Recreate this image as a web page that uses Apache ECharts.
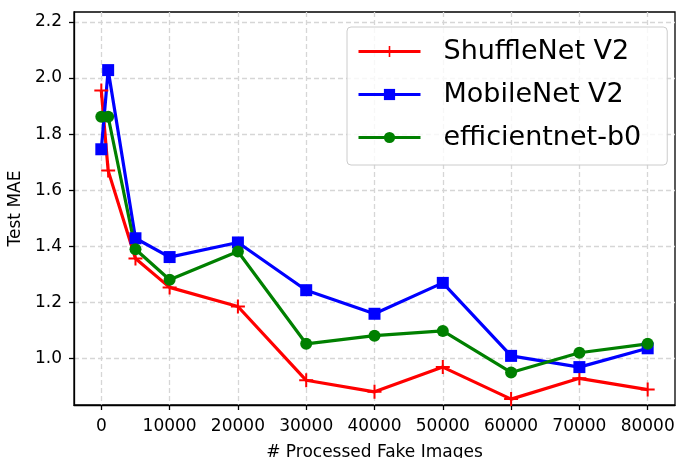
<!doctype html>
<html>
<head>
<meta charset="utf-8">
<title>Test MAE</title>
<script src="https://cdn.jsdelivr.net/npm/echarts@6/dist/echarts.min.js"></script>
<style>
  html, body { margin: 0; padding: 0; background: #fff; }
  #chart { width: 681px; height: 458px; }
</style>
</head>
<body>
<div id="chart"></div>
<script>
// processed fake images (x) for every measurement
var steps = [0, 1000, 5000, 10000, 20000, 30000, 40000, 50000, 60000, 70000, 80000];
var shuffleNet = [1.955, 1.67, 1.357, 1.254, 1.186, 0.923, 0.882, 0.97, 0.856, 0.93, 0.89];
var mobileNet = [1.746, 2.028, 1.429, 1.362, 1.414, 1.244, 1.16, 1.27, 1.01, 0.97, 1.037];
var efficientNet = [1.862, 1.862, 1.39, 1.281, 1.382, 1.053, 1.082, 1.099, 0.951, 1.021, 1.053];

var xTicks = [0, 10000, 20000, 30000, 40000, 50000, 60000, 70000, 80000];
var yTicks = [1.0, 1.2, 1.4, 1.6, 1.8, 2.0, 2.2];

var names = ['ShuffleNet V2', 'MobileNet V2', 'efficientnet-b0'];

function pairs(ys) {
    return steps.map(function (x, i) { return [x, ys[i]]; });
}

var font = 'DejaVu Sans';
var plusIcon = 'path://M6,0H8V6H14V8H8V14H6V8H0V6H6Z';

var chart = echarts.init(document.getElementById('chart'));

var option = {
    animation: false,
    backgroundColor: '#fff',
    grid: {
        left: 74, right: 6, top: 12, bottom: 53,
        show: true,
        borderColor: '#000',
        borderWidth: 1.3,
        containLabel: false,
        outerBoundsMode: 'none'
    },
    legend: {
        left: 347, top: 27,
        orient: 'vertical',
        padding: [9, 26, 12, 10],
        itemGap: 12,
        itemWidth: 62,
        itemHeight: 14,
        borderColor: '#cccccc',
        borderWidth: 1,
        borderRadius: 4,
        backgroundColor: 'rgba(255,255,255,0.8)',
        lineStyle: { width: 3 },
        textStyle: {
            fontFamily: font, fontSize: 27, color: '#000',
            lineHeight: 31, padding: [0, 0, 0, 18]
        },
        data: names
    },
    xAxis: {
        type: 'value',
        min: -4000, max: 84000,
        name: '# Processed Fake Images',
        nameLocation: 'middle',
        nameGap: 39,
        nameTextStyle: { fontFamily: font, fontSize: 17, color: '#000' },
        axisLine: { show: true, onZero: false, lineStyle: { color: '#000', width: 1.3 } },
        axisTick: { show: true, length: 5, customValues: xTicks, lineStyle: { color: '#000', width: 1.3 } },
        axisLabel: {
            customValues: xTicks, margin: 13, fontFamily: font, fontSize: 17, color: '#000',
            formatter: function (v) { return String(v); }
        },
        splitLine: { show: true, lineStyle: { color: '#d6d6d6', width: 1.3, type: [5, 3] } }
    },
    yAxis: {
        type: 'value',
        min: 0.835, max: 2.235,
        name: 'Test MAE',
        nameLocation: 'middle',
        nameGap: 43,
        nameTextStyle: { fontFamily: font, fontSize: 17, color: '#000' },
        axisLine: { show: true, onZero: false, lineStyle: { color: '#000', width: 1.3 } },
        axisTick: { show: true, length: 5, customValues: yTicks, lineStyle: { color: '#000', width: 1.3 } },
        axisLabel: {
            customValues: yTicks, margin: 12, fontFamily: font, fontSize: 17, color: '#000',
            formatter: function (v) { return v.toFixed(1); }
        },
        splitLine: { show: true, lineStyle: { color: '#d6d6d6', width: 1.3, type: [5, 3] } }
    },
    series: [
        {
            name: names[0], type: 'line', data: pairs(shuffleNet),
            color: '#ff0000',
            symbol: plusIcon, symbolSize: 14,
            lineStyle: { width: 3.2, color: '#ff0000' },
            itemStyle: { color: '#ff0000' }
        },
        {
            name: names[1], type: 'line', data: pairs(mobileNet),
            color: '#0000ff',
            symbol: 'rect', symbolSize: 12,
            lineStyle: { width: 3.2, color: '#0000ff' },
            itemStyle: { color: '#0000ff' }
        },
        {
            name: names[2], type: 'line', data: pairs(efficientNet),
            color: '#008000',
            symbol: 'circle', symbolSize: 12,
            lineStyle: { width: 3.2, color: '#008000' },
            itemStyle: { color: '#008000' }
        }
    ]
};

chart.setOption(option);
</script>
</body>
</html>
